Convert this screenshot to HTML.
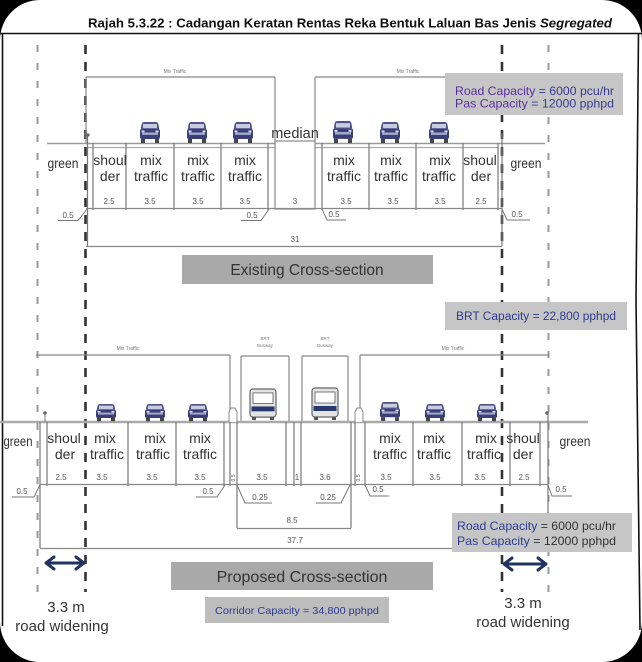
<!DOCTYPE html>
<html><head><meta charset="utf-8"><style>
html,body{margin:0;padding:0;background:#000;}
svg{display:block;}
text{font-family:"Liberation Sans",Arial,sans-serif;}
</style></head><body>
<svg width="642" height="662" viewBox="0 0 642 662" xmlns="http://www.w3.org/2000/svg">
<defs>
<g id="car">
<path d="M4 0 H16 Q18 0 18.6 3 L19.2 7 H0.8 L1.4 3 Q2 0 4 0Z" fill="#50548c"/>
<rect x="3" y="2" width="14" height="4.2" fill="#c9cbde"/>
<rect x="0" y="7" width="20" height="10" rx="2" fill="#3b3f78"/>
<rect x="2" y="10.5" width="16" height="2.4" fill="#a3a8cc"/>
<rect x="1.5" y="8.5" width="3" height="1.8" fill="#dcdff0"/>
<rect x="15.5" y="8.5" width="3" height="1.8" fill="#dcdff0"/>
<rect x="1" y="17" width="4" height="4" fill="#444"/>
<rect x="15" y="17" width="4" height="4" fill="#444"/>
</g>
<g id="bus">
<rect x="0" y="0" width="26" height="29" rx="3" fill="#e4e4e4" stroke="#666" stroke-width="1.2"/>
<rect x="3" y="4" width="20" height="11" fill="#fff" stroke="#777" stroke-width="1"/>
<rect x="1.5" y="18" width="23" height="5" fill="#263a70"/>
<rect x="2" y="29" width="4" height="3" fill="#555"/>
<rect x="20" y="29" width="4" height="3" fill="#555"/>
</g>
</defs>

<rect x="0" y="0" width="642" height="662" fill="#000"/>
<rect x="0" y="0" width="642" height="662" rx="40" ry="40" fill="#fff"/>

<line x1="0" y1="33.5" x2="642" y2="33.5" stroke="#111" stroke-width="1.6"/>
<line x1="2.5" y1="33" x2="2.5" y2="626" stroke="#111" stroke-width="1.6"/>
<polyline points="638.5,33 636,300 640,630" fill="none" stroke="#111" stroke-width="1.6"/>

<text x="88" y="27.5" font-family="'DejaVu Sans','Liberation Sans',sans-serif" font-weight="bold" font-size="12.5" fill="#111" textLength="524" lengthAdjust="spacingAndGlyphs">Rajah 5.3.22 : Cadangan Keratan Rentas Reka Bentuk Laluan Bas Jenis <tspan font-style="italic">Segregated</tspan></text>

<line x1="37.5" y1="45" x2="37.5" y2="592" stroke="#9a9a9a" stroke-width="2" stroke-dasharray="7 11"/>
<line x1="548.5" y1="45" x2="548.5" y2="592" stroke="#9a9a9a" stroke-width="2" stroke-dasharray="7 11"/>
<line x1="85.5" y1="45" x2="85.5" y2="592" stroke="#333" stroke-width="2.6" stroke-dasharray="9 8"/>
<line x1="502" y1="45" x2="502" y2="592" stroke="#333" stroke-width="2.6" stroke-dasharray="9 8"/>

<!-- EXISTING -->
<g stroke="#888" stroke-width="1.2" fill="none">
<line x1="86" y1="77" x2="275" y2="77"/>
<line x1="315" y1="77" x2="502" y2="77"/>
<line x1="275" y1="77" x2="275" y2="141"/>
<line x1="315" y1="77" x2="315" y2="141"/>
<line x1="86" y1="77" x2="86" y2="143"/>
</g>
<text x="175" y="73" font-size="5" fill="#777" text-anchor="middle">Mix Traffic</text>
<text x="408" y="73" font-size="5" fill="#777" text-anchor="middle">Mix Traffic</text>

<line x1="47" y1="143.5" x2="545" y2="143.5" stroke="#999" stroke-width="1.6"/>
<line x1="88" y1="147.5" x2="498" y2="147.5" stroke="#aaa" stroke-width="1.2"/>
<rect x="275" y="141" width="40" height="68" fill="#fff" stroke="#888" stroke-width="1.2"/>
<text x="295" y="138" font-size="14.5" fill="#333" text-anchor="middle">median</text>

<g stroke="#777" stroke-width="1.2">
<line x1="87.5" y1="134" x2="87.5" y2="246"/>
<line x1="93" y1="143" x2="93" y2="210"/>
<line x1="126" y1="143" x2="126" y2="210"/>
<line x1="174" y1="143" x2="174" y2="210"/>
<line x1="221" y1="143" x2="221" y2="210"/>
<line x1="268" y1="143" x2="268" y2="210"/>
<line x1="322" y1="143" x2="322" y2="210"/>
<line x1="369" y1="143" x2="369" y2="210"/>
<line x1="416" y1="143" x2="416" y2="210"/>
<line x1="463" y1="143" x2="463" y2="210"/>
<line x1="498" y1="143" x2="498" y2="210"/>
<line x1="502" y1="134" x2="502" y2="246"/>
</g>
<circle cx="88" cy="135" r="1.6" fill="#666"/>
<circle cx="502" cy="135" r="1.6" fill="#666"/>

<use href="#car" transform="translate(140,122)"/>
<use href="#car" transform="translate(187,122)"/>
<use href="#car" transform="translate(233,122)"/>
<use href="#car" transform="translate(333,121) scale(1,1.05)"/>
<use href="#car" transform="translate(380,122)"/>
<use href="#car" transform="translate(429,122)"/>

<g font-size="14" fill="#333" text-anchor="middle">
<text x="63" y="168" textLength="31" lengthAdjust="spacingAndGlyphs">green</text>
<text x="110" y="165">shoul</text>
<text x="110" y="181">der</text>
<text x="151" y="165">mix</text>
<text x="151" y="181">traffic</text>
<text x="198" y="165">mix</text>
<text x="198" y="181">traffic</text>
<text x="245" y="165">mix</text>
<text x="245" y="181">traffic</text>
<text x="344" y="165">mix</text>
<text x="344" y="181">traffic</text>
<text x="391" y="165">mix</text>
<text x="391" y="181">traffic</text>
<text x="440" y="165">mix</text>
<text x="439" y="181">traffic</text>
<text x="480" y="165">shoul</text>
<text x="481" y="181">der</text>
<text x="526" y="168" textLength="31" lengthAdjust="spacingAndGlyphs">green</text>
</g>

<line x1="86" y1="208.5" x2="502" y2="208.5" stroke="#888" stroke-width="1.2"/>
<g font-size="8" fill="#555" text-anchor="middle">
<text x="109" y="204">2.5</text>
<text x="150" y="204">3.5</text>
<text x="198" y="204">3.5</text>
<text x="245" y="204">3.5</text>
<text x="295" y="204">3</text>
<text x="346" y="204">3.5</text>
<text x="393" y="204">3.5</text>
<text x="440" y="204">3.5</text>
<text x="481" y="204">2.5</text>
<text x="68" y="218">0.5</text>
<text x="252" y="218">0.5</text>
<text x="334" y="217">0.5</text>
<text x="517" y="217">0.5</text>
<text x="295" y="242">31</text>
</g>
<g stroke="#777" stroke-width="1" fill="none">
<polyline points="58,220.5 78,220.5 87,209"/>
<polyline points="241,220.5 261,220.5 269,209"/>
<polyline points="322,209 327,220 346,220"/>
<polyline points="502,209 507,220 530,220"/>
</g>
<line x1="86" y1="246.5" x2="502" y2="246.5" stroke="#888" stroke-width="1.2"/>

<rect x="182" y="255" width="251" height="29" fill="#a9a9a9"/>
<text x="307" y="275" font-size="15.5" fill="#333" text-anchor="middle">Existing Cross-section</text>

<rect x="445" y="73" width="178" height="42" fill="#c6c6c6"/>
<text x="455" y="95" font-size="12" fill="#3a3a96" textLength="159" lengthAdjust="spacingAndGlyphs"><tspan fill="#5a2f9e">Road Capacity</tspan> = 6000 pcu/hr</text>
<text x="455" y="107.5" font-size="12" fill="#3a3a96" textLength="159" lengthAdjust="spacingAndGlyphs"><tspan fill="#5a2f9e">Pas Capacity</tspan> = 12000 pphpd</text>

<rect x="445" y="302" width="182" height="28" fill="#c6c6c6"/>
<text x="536" y="320" font-size="11.5" fill="#2c3a90" text-anchor="middle" textLength="160" lengthAdjust="spacingAndGlyphs">BRT Capacity = 22,800 pphpd</text>

<!-- PROPOSED -->
<g stroke="#888" stroke-width="1.2" fill="none">
<line x1="36" y1="355" x2="230" y2="355"/>
<line x1="230" y1="355" x2="230" y2="410"/>
<line x1="241" y1="356" x2="289" y2="356"/>
<line x1="241" y1="356" x2="241" y2="422"/>
<line x1="289" y1="356" x2="289" y2="422"/>
<line x1="302" y1="356" x2="348" y2="356"/>
<line x1="302" y1="356" x2="302" y2="422"/>
<line x1="348" y1="356" x2="348" y2="422"/>
<line x1="360" y1="355" x2="549" y2="355"/>
<line x1="360" y1="355" x2="360" y2="410"/>
</g>
<text x="128" y="350" font-size="5" fill="#777" text-anchor="middle">Mix Traffic</text>
<text x="453" y="350" font-size="5" fill="#777" text-anchor="middle">Mix Traffic</text>
<text x="265" y="340" font-size="4.5" fill="#777" text-anchor="middle">BRT</text>
<text x="265" y="347" font-size="4.5" fill="#777" text-anchor="middle">Busway</text>
<text x="325" y="340" font-size="4.5" fill="#777" text-anchor="middle">BRT</text>
<text x="325" y="347" font-size="4.5" fill="#777" text-anchor="middle">Busway</text>

<line x1="0" y1="422" x2="588" y2="422" stroke="#aaa" stroke-width="2.6"/>

<path d="M229 422 V412 L231 408 H235 L237 412 V422" fill="#fff" stroke="#888" stroke-width="1"/>
<path d="M355 422 V412 L357 408 H361 L363 412 V422" fill="#fff" stroke="#888" stroke-width="1"/>
<circle cx="45" cy="413" r="1.8" fill="#666"/>
<line x1="45" y1="413" x2="45" y2="422" stroke="#777" stroke-width="1"/>
<circle cx="547" cy="413" r="1.8" fill="#666"/>

<g stroke="#777" stroke-width="1.2">
<line x1="40" y1="422" x2="40" y2="548"/>
<line x1="47" y1="422" x2="47" y2="486"/>
<line x1="128" y1="422" x2="128" y2="486"/>
<line x1="176" y1="422" x2="176" y2="486"/>
<line x1="224" y1="422" x2="224" y2="486"/>
<line x1="230" y1="422" x2="230" y2="486"/>
<line x1="237" y1="422" x2="237" y2="528"/>
<line x1="286" y1="422" x2="286" y2="486"/>
<line x1="294" y1="422" x2="294" y2="486"/>
<line x1="301" y1="422" x2="301" y2="486"/>
<line x1="351" y1="422" x2="351" y2="528"/>
<line x1="355" y1="422" x2="355" y2="486"/>
<line x1="365" y1="422" x2="365" y2="486"/>
<line x1="413" y1="422" x2="413" y2="486"/>
<line x1="462" y1="422" x2="462" y2="486"/>
<line x1="510" y1="422" x2="510" y2="486"/>
<line x1="540" y1="422" x2="540" y2="486"/>
<line x1="548" y1="413" x2="548" y2="548"/>
</g>

<use href="#car" transform="translate(96,404) scale(1,0.82)"/>
<use href="#car" transform="translate(145,404) scale(1,0.82)"/>
<use href="#car" transform="translate(188,404) scale(1,0.82)"/>
<use href="#car" transform="translate(380,402) scale(1,0.9)"/>
<use href="#car" transform="translate(425,404) scale(1,0.82)"/>
<use href="#car" transform="translate(477,404) scale(1,0.82)"/>
<use href="#bus" transform="translate(250,389) scale(1,0.97)"/>
<use href="#bus" transform="translate(312,388)"/>

<g font-size="14" fill="#333" text-anchor="middle">
<text x="18" y="446" textLength="29" lengthAdjust="spacingAndGlyphs">green</text>
<text x="64" y="443">shoul</text>
<text x="65" y="459">der</text>
<text x="105" y="443">mix</text>
<text x="107" y="459">traffic</text>
<text x="155" y="443">mix</text>
<text x="153" y="459">traffic</text>
<text x="200" y="443">mix</text>
<text x="200" y="459">traffic</text>
<text x="390" y="443">mix</text>
<text x="390" y="459">traffic</text>
<text x="434" y="443">mix</text>
<text x="434" y="459">traffic</text>
<text x="486" y="443">mix</text>
<text x="484" y="459">traffic</text>
<text x="523" y="443">shoul</text>
<text x="523" y="459">der</text>
<text x="575" y="446" textLength="31" lengthAdjust="spacingAndGlyphs">green</text>
</g>

<line x1="40" y1="484.5" x2="548" y2="484.5" stroke="#888" stroke-width="1.2"/>
<g font-size="8" fill="#555" text-anchor="middle">
<text x="61" y="480">2.5</text>
<text x="102" y="480">3.5</text>
<text x="152" y="480">3.5</text>
<text x="200" y="480">3.5</text>
<text x="262" y="480">3.5</text>
<text x="297" y="480">1</text>
<text x="325" y="480">3.6</text>
<text x="386" y="480">3.5</text>
<text x="435" y="480">3.5</text>
<text x="480" y="480">3.5</text>
<text x="524" y="480">2.5</text>
<text x="22" y="494">0.5</text>
<text x="208" y="494">0.5</text>
<text x="260" y="500">0.25</text>
<text x="328" y="500">0.25</text>
<text x="378" y="492">0.5</text>
<text x="561" y="492">0.5</text>
<text x="292" y="523">8.5</text>
<text x="295" y="543">37.7</text>
</g>
<text transform="translate(235,478) rotate(-90)" font-size="5" fill="#555" text-anchor="middle">0.5</text>
<text transform="translate(360,478) rotate(-90)" font-size="5" fill="#555" text-anchor="middle">0.5</text>
<g stroke="#777" stroke-width="1" fill="none">
<polyline points="12,497 34,497 40,485"/>
<polyline points="196,497 217,497 225,485"/>
<polyline points="237,485 245,503 272,503"/>
<polyline points="316,503 341,503 350,485"/>
<polyline points="365,485 370,496 389,496"/>
<polyline points="548,485 552,496 572,496"/>
</g>
<line x1="237" y1="528.5" x2="351" y2="528.5" stroke="#888" stroke-width="1.2"/>
<line x1="40" y1="548.5" x2="548" y2="548.5" stroke="#888" stroke-width="1.2"/>

<rect x="452" y="513" width="180" height="39" fill="#c6c6c6"/>
<text x="457" y="530" font-size="12" fill="#333" textLength="159" lengthAdjust="spacingAndGlyphs"><tspan fill="#2b3d94">Road Capacity</tspan> = 6000 pcu/hr</text>
<text x="457" y="545" font-size="12" fill="#333" textLength="159" lengthAdjust="spacingAndGlyphs"><tspan fill="#2b3d94">Pas Capacity</tspan>  = 12000 pphpd</text>

<g stroke="#1f3560" stroke-width="3" fill="none" stroke-linecap="round" stroke-linejoin="round">
<line x1="47" y1="563" x2="83" y2="563"/>
<polyline points="54,557 46,563 54,569"/>
<polyline points="76,557 84,563 76,569"/>
<line x1="505" y1="564" x2="545" y2="564"/>
<polyline points="512,558 504,564 512,570"/>
<polyline points="538,558 546,564 538,570"/>
</g>

<rect x="171" y="562" width="262" height="28" fill="#a9a9a9"/>
<text x="302" y="582" font-size="16" fill="#333" text-anchor="middle">Proposed Cross-section</text>

<rect x="205" y="597" width="184" height="26" fill="#bdbdbd"/>
<text x="297" y="614" font-size="10.5" fill="#2c3a90" text-anchor="middle" textLength="164" lengthAdjust="spacingAndGlyphs">Corridor Capacity = 34,800 pphpd</text>

<g font-size="15" fill="#333" text-anchor="middle">
<text x="66" y="612">3.3 m</text>
<text x="62" y="631">road widening</text>
<text x="523" y="608">3.3 m</text>
<text x="523" y="627">road widening</text>
</g>
</svg>
</body></html>
